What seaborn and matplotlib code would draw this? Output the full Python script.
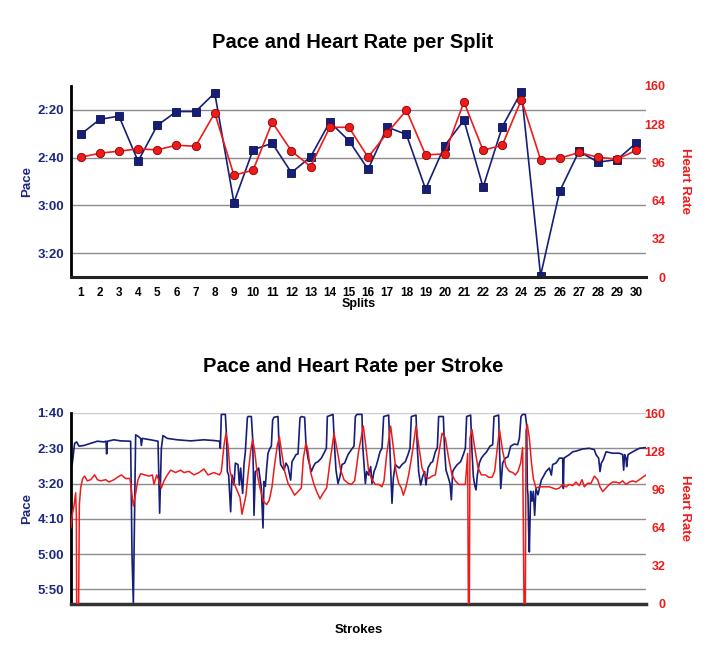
import matplotlib
matplotlib.use("Agg")
import matplotlib.pyplot as plt
import seaborn as sns
import pandas as pd

# ---------------- data ----------------
splits = list(range(1, 31))
split_pace = [150.3, 144.0, 142.6, 161.5, 146.5, 140.7, 140.7, 132.9, 178.8, 156.7,
              154.0, 166.3, 159.7, 145.1, 152.9, 164.9, 147.2, 150.3, 173.2, 155.0,
              144.3, 172.4, 147.1, 132.4, 209.4, 174.0, 157.4, 161.9, 160.8, 153.8]
split_hr = [100.3, 103.7, 105.4, 107.3, 106.5, 110.4, 109.5, 137.4, 85.3, 89.5,
            129.6, 105.6, 92.5, 125.4, 125.4, 100.3, 120.7, 139.7, 102.3, 103.1,
            146.6, 106.2, 110.4, 148.6, 98.4, 99.5, 104.3, 100.3, 98.7, 106.2]

split_pace_ticks = [140, 160, 180, 200]
split_pace_labels = ["2:20", "2:40", "3:00", "3:20"]
stroke_pace_ticks = [100, 150, 200, 250, 300, 350]
stroke_pace_labels = ["1:40", "2:30", "3:20", "4:10", "5:00", "5:50"]
hr_ticks = [0, 32, 64, 96, 128, 160]

stroke_pace_x = [0.7, 2.7, 4.7, 7.3, 11.3, 16, 26, 39, 52.7, 66, 70, 71.3, 72.7, 86, 99, 116, 119.3,
                 122, 124.7, 127.3, 129.3, 134, 139.3, 140.7, 142.7, 159.3, 174, 177.3, 180.7, 184,
                 192.7, 212.7, 239.3, 266, 286, 297, 298.7, 300.7, 308.7, 311.3, 312.7, 315.3, 319.3,
                 322, 326, 328.7, 334, 336.7, 339.3, 343.3, 346, 348.7, 352.7, 354, 360.7, 363.3,
                 364.7, 366, 368.7, 372.7, 375.3, 380.7, 384, 386, 388.7, 391.3, 394, 398, 400.7,
                 403.3, 406, 414, 416, 419.3, 426, 430, 434, 439.3, 442, 446, 450, 454, 458, 460.7,
                 467.3, 470, 474, 480.7, 484.7, 488.7, 494, 500.7, 507.3, 510.7, 512.7, 524, 527.3,
                 530, 534, 538, 542, 547.3, 554, 560.7, 566, 568.7, 572, 582, 583.3, 587.3, 588.7,
                 591.3, 595.3, 599.3, 602, 606, 610, 614, 618, 622, 625.3, 635.3, 638, 640.7, 642,
                 644.7, 648.7, 652.7, 656.7, 662, 668.7, 674, 678, 680.7, 690, 692.7, 695.3, 699.3,
                 703.3, 707.3, 710, 714, 719.3, 723.3, 728.7, 732.7, 735.3, 744.7, 747.3, 750, 754,
                 758, 760.7, 763.3, 767.3, 772.7, 779.3, 784.7, 788.7, 791.3, 799.3, 802, 804.7,
                 807.3, 810, 812.7, 816.7, 820.7, 826, 831.3, 838, 843.3, 846, 855.3, 857, 859.5,
                 863.3, 868.7, 874, 879.3, 886.7, 893.3, 896.7, 900, 903.3, 908.7, 911.3, 912.7,
                 914, 915.3, 916.7, 919.3, 922, 924.7, 927.3, 930, 934, 936.7, 940.7, 944.7, 950,
                 956.7, 960.7, 963.3, 970, 976.7, 983.3, 984.7, 986, 990, 996.7, 1003.3, 1010,
                 1023.3, 1036.7, 1046.7, 1050, 1055.3, 1058, 1060.7, 1064.7, 1070, 1083.3, 1096.7,
                 1103.3, 1105.3, 1107.3, 1110, 1111.3, 1114, 1123.3, 1136.7, 1150]
stroke_pace = [176, 171, 159, 143, 141, 147, 146, 143, 140, 141, 140, 158, 140, 138, 139.5, 140, 140,
               301, 370, 230, 131, 133, 136, 146, 136, 138, 140, 242, 150, 132,
               136, 138, 139.5, 138, 139, 140, 150, 102, 102, 136, 183, 188, 240,
               188, 202, 171, 173, 202, 178, 214, 173, 155, 107, 105, 105, 136,
               183, 245, 183, 181, 178, 207, 263, 197, 204, 178, 157, 150, 147,
               110, 106, 105, 145, 173, 181, 171, 176, 195, 169, 164, 159, 158, 107, 105,
               106, 145, 164, 183, 176, 171, 169, 164, 155, 150, 105, 102, 150,
               181, 200, 190, 173, 171, 159, 152, 147, 105, 102, 102, 145, 185, 200,
               183, 188, 176, 200, 183, 176, 166, 155, 150, 105, 103, 155, 202, 228,
               192, 173, 176, 178, 173, 169, 159, 150, 105, 103, 150, 183, 202,
               190, 183, 202, 178, 171, 169, 155, 149, 105, 105, 155, 181, 190,
               200, 223, 183, 178, 173, 169, 159, 150, 105, 103, 155, 190,
               202, 209, 188, 171, 164, 159, 155, 147, 145, 105, 103, 150, 207,
               171, 164, 162, 147, 144, 145, 136, 105, 102, 102, 117, 207,
               216, 268, 297, 211, 225, 211, 245, 207, 216, 207, 195, 190, 183,
               178, 188, 173, 171, 164, 164, 207, 164, 162, 159, 155, 154,
               151, 150, 152, 159, 164, 183, 171, 166, 155, 157, 157,
               159, 181, 159, 164, 176, 159, 155, 150, 149]

stroke_hr_x = [0, 2.7, 6, 9.3, 10.7, 11.3, 15.3, 16.7, 19.3, 23.3, 27.3, 32.7, 39.3, 47.3, 52.7, 59.3,
               69.3, 76, 86, 92.7, 100.7, 109.3, 118, 121.3, 124.7, 128.7, 134, 139.3, 147.3, 156,
               162.7, 166, 171.3, 176, 180.7, 186, 192.7, 199.3, 209.3, 219.3, 226, 236, 246, 256,
               266, 274, 286, 297, 300.7, 306, 310, 314, 318, 322, 327.3, 334, 338, 342, 346, 350,
               354, 359.3, 363.3, 367.3, 372.7, 378, 384.7, 391.3, 396.7, 402, 407.3, 412.7, 416.7,
               422, 427.3, 434, 440.7, 447.3, 454, 460.7, 464.7, 470, 474, 479.3, 486, 491.3, 498,
               504.7, 511.3, 518, 526, 534, 539.3, 546, 554, 560.7, 567.3, 575.3, 584.7, 590, 595.3,
               602, 608.7, 615.3, 622, 626, 631.3, 639.3, 644.7, 650, 655.3, 660.7, 664.7, 670,
               675.3, 682, 690, 695.3, 702, 708.7, 715.3, 722, 728.7, 735.3, 742, 748.7, 755.3, 762,
               768.7, 775.3, 782, 788.7, 793.3, 794.7, 796.7, 798, 802, 807.3, 814, 820.7, 828.7,
               835.3, 842, 847.3, 852.7, 857, 863.3, 870, 876.7, 883.3, 888.7, 894, 899.3, 903.3,
               906, 908.7, 910, 912.7, 916.7, 920.7, 924.7, 930, 936.7, 943.3, 950, 956.7, 963.3,
               970, 976.7, 983.3, 990, 996.7, 1003.3, 1010, 1016.7, 1022, 1026.7, 1033.3, 1040,
               1046.7, 1053.3, 1058, 1063.3, 1070, 1076.7, 1083.3, 1090, 1096.7, 1103.3, 1110,
               1116.7, 1123.3, 1130, 1136.7, 1143.3, 1150]
stroke_hr = [63.5, 75, 82, 93, 75, 0, 0, 83, 97, 105, 107, 103, 104, 108, 104, 103,
             104, 102, 104, 106, 108, 105, 105, 94, 82, 91, 104, 109, 108, 107,
             108, 100, 108, 103, 97, 103, 108, 112, 110, 112, 110, 111, 108, 110,
             113, 108, 110, 108, 111, 133, 143, 133, 111, 105, 100, 93, 89, 75, 83, 91,
             108, 128, 138, 128, 108, 97, 86, 83, 87, 98, 117, 133, 140,
             125, 111, 101, 96, 91, 94, 97, 122, 135, 128, 110, 100, 94, 88,
             93, 97, 119, 143, 125, 112, 104, 101, 100, 103, 128, 149, 131, 111,
             104, 100, 100, 98, 103, 125, 149, 131, 111, 101, 97, 91, 98,
             108, 125, 149, 133, 114, 107, 105, 107, 108, 125, 143, 139, 122, 108,
             103, 100, 100, 100, 126, 0, 0, 139, 146, 131, 114, 108, 108,
             106, 106, 111, 131, 146, 128, 115, 111, 110, 108, 111, 118, 131,
             0, 0, 145, 150, 139, 119, 105, 97, 98, 98, 98, 98, 97,
             96, 97, 100, 98, 100, 99, 102, 99, 104, 98, 101, 101,
             107, 104, 98, 94, 97, 100, 102, 102, 101, 103, 100,
             102, 103, 102, 104, 106, 108]

# ---------------- style ----------------
sns.set_theme(style="white")
plt.rcParams['font.family'] = ['Liberation Sans', 'DejaVu Sans']
plt.rcParams['font.weight'] = 'bold'

NAVY = "#161e78"
NAVY_TXT = "#1c2880"
RED = "#ee1b1b"
GRID = "#8c8c8c"

fig = plt.figure(figsize=(7.06, 6.48), dpi=100)
W, H = 706, 648


def axes_rect(l, t, r, b):
    return [l / W, 1 - b / H, (r - l) / W, (b - t) / H]


def style_axes(ax, ax2, pace_ticks, pace_labels, ylim):
    ax.set_ylim(ylim[0], ylim[1])
    ax.set_yticks(pace_ticks)
    ax.set_yticklabels(pace_labels)
    ax.tick_params(axis='y', colors=NAVY_TXT, length=0, pad=5, labelsize=9.5)
    for lab in ax.get_yticklabels():
        lab.set_fontweight('bold')
    ax.yaxis.grid(True, color=GRID, linewidth=1.0)
    ax.xaxis.grid(False)
    ax.set_axisbelow(True)
    for s in ['top', 'right']:
        ax.spines[s].set_visible(False)
    ax.spines['left'].set_color('black')
    ax.spines['left'].set_linewidth(2)
    ax.spines['bottom'].set_color('#222222')
    ax.spines['bottom'].set_linewidth(2.2)
    ax.set_ylabel("Pace", color=NAVY_TXT, fontsize=9.5, fontweight='bold')
    ax.yaxis.label.set_va('center')
    ax.yaxis.set_label_coords(-0.077, 0.5)

    ax2.set_ylim(0, 160)
    ax2.set_yticks(hr_ticks)
    ax2.set_yticklabels([str(t) for t in hr_ticks])
    ax2.tick_params(axis='y', colors=RED, length=0, pad=14, labelsize=9)
    for lab in ax2.get_yticklabels():
        lab.set_fontweight('bold')
        lab.set_ha('right')
    ax2.grid(False)
    for s in ax2.spines.values():
        s.set_visible(False)
    ax2.set_ylabel("Heart Rate", color=RED, fontsize=9.5, fontweight='bold', rotation=270)
    ax2.yaxis.label.set_va('center')
    ax2.yaxis.set_label_coords(1.068, 0.5)


# ---------------- top chart ----------------
ax = fig.add_axes(axes_rect(71, 86, 646, 277))
df_split = pd.DataFrame({"Split": splits, "Pace": split_pace, "HR": split_hr})
sns.lineplot(data=df_split, x="Split", y="Pace", ax=ax, color=NAVY, linewidth=1.2,
             marker='s', markersize=6, markeredgecolor="#0a1050", markeredgewidth=0.6,
             estimator=None)
ax2 = ax.twinx()
sns.lineplot(data=df_split, x="Split", y="HR", ax=ax2, color=RED, linewidth=1.2,
             marker='o', markersize=6, markeredgecolor="#8a0000", markeredgewidth=0.6,
             estimator=None)
ax.set_xlim(0.5, 30.5)
ax.set_xticks(splits)
ax.set_xticklabels([str(s) for s in splits])
ax.tick_params(axis='x', colors='black', length=0, pad=7.5, labelsize=8.5)
for lab in ax.get_xticklabels():
    lab.set_fontweight('bold')
style_axes(ax, ax2, split_pace_ticks, split_pace_labels, (210, 130))
ax.set_xlabel("Splits", fontsize=9, fontweight='bold', color='black')
ax.xaxis.set_label_coords(0.5, -0.11)

# ---------------- bottom chart ----------------
bx = fig.add_axes(axes_rect(71, 413, 646, 603.5))
df_sp = pd.DataFrame({"Stroke": stroke_pace_x, "Pace": stroke_pace})
df_sh = pd.DataFrame({"Stroke": stroke_hr_x, "HR": stroke_hr})
sns.lineplot(data=df_sp, x="Stroke", y="Pace", ax=bx, color=NAVY, linewidth=1.2,
             estimator=None)
bx2 = bx.twinx()
sns.lineplot(data=df_sh, x="Stroke", y="HR", ax=bx2, color=RED, linewidth=1.1,
             estimator=None)
bx.set_xlim(0, 1150)
bx.set_xticks([])
style_axes(bx, bx2, stroke_pace_ticks, stroke_pace_labels, (370, 100))
bx.spines['bottom'].set_color('#333333')
bx.spines['bottom'].set_linewidth(2.5)
glines = bx.get_ygridlines()
glines[0].set_color('#cccccc')
bx.set_xlabel("Strokes", fontsize=9.5, fontweight='bold', color='black')
bx.xaxis.set_label_coords(0.5, -0.11)

# ---------------- titles ----------------
fig.text(0.5, 1 - 42 / H, "Pace and Heart Rate per Split", ha='center', va='center',
         fontsize=14.5, fontweight='bold', color='black')
fig.text(0.5, 1 - 367 / H, "Pace and Heart Rate per Stroke", ha='center', va='center',
         fontsize=14.5, fontweight='bold', color='black')

fig.savefig("out.png", dpi=100, facecolor='white')
